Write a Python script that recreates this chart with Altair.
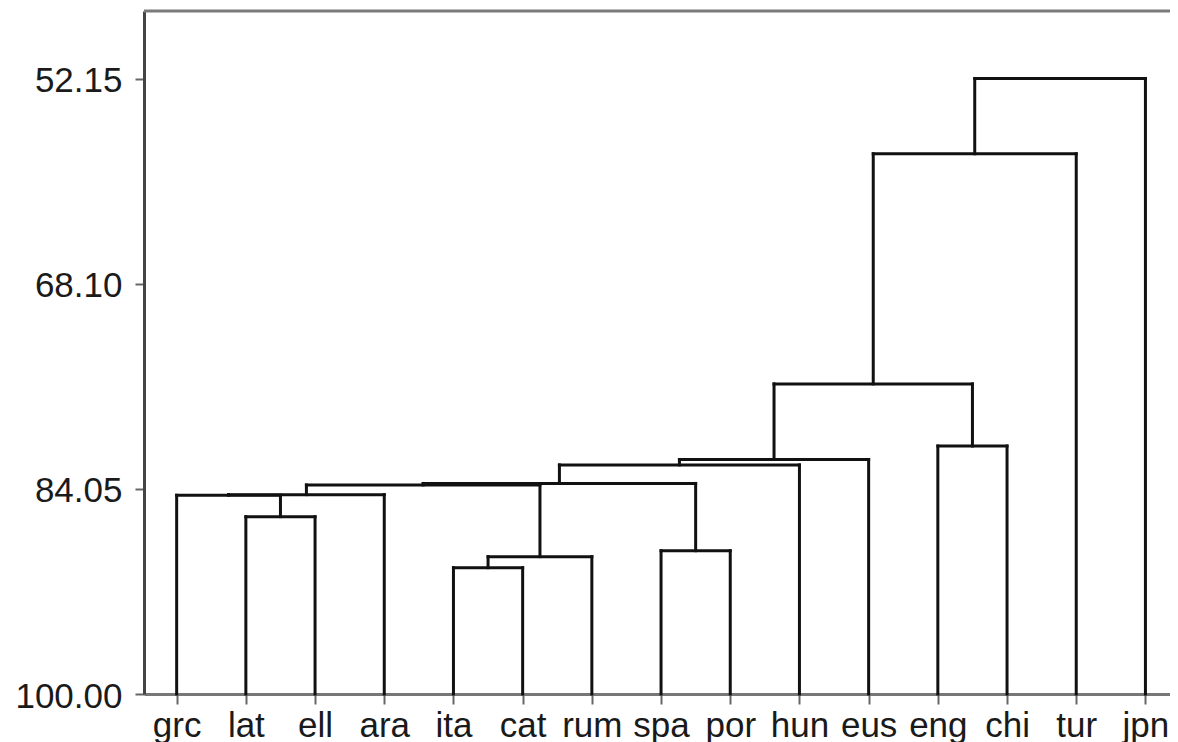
import altair as alt
import pandas as pd

# Leaves in dendrogram order
leaves = ["grc", "lat", "ell", "ara", "ita", "cat", "rum", "spa", "por",
          "hun", "eus", "eng", "chi", "tur", "jpn"]

# Linkage: node ids 0..14 are leaves, merge k creates node 15+k
merge_left = [1, 0, 16, 4, 18, 7, 17, 21, 22, 23, 11, 24, 26, 27]
merge_right = [2, 15, 3, 5, 6, 8, 19, 20, 9, 10, 12, 25, 13, 14]
merge_height = [86.21, 84.55, 84.50, 90.18, 89.32, 88.86, 83.75, 83.63,
                82.19, 81.77, 80.72, 75.89, 58.00, 52.15]

y_ticks = [52.15, 68.10, 84.05, 100.00]
leaf_level = 100.0
y_top = 46.90

# Build dendrogram segments from linkage
pos = {i: float(i) for i in range(len(leaves))}
hgt = {i: leaf_level for i in range(len(leaves))}
rows = []
for k, (l, r, h) in enumerate(zip(merge_left, merge_right, merge_height)):
    node = len(leaves) + k
    rows.append({"x": pos[l], "x2": pos[l], "y": hgt[l], "y2": h})
    rows.append({"x": pos[l], "x2": pos[r], "y": h, "y2": h})
    rows.append({"x": pos[r], "x2": pos[r], "y": hgt[r], "y2": h})
    pos[node] = (pos[l] + pos[r]) / 2
    hgt[node] = h
segs = pd.DataFrame(rows)

# leaf spacing ~69.2px; right end of view trimmed to fit the window
x_dom = [-0.472, 14.355]
label_expr = "[" + ",".join("'%s'" % s for s in leaves) + "][datum.value]"

xscale = alt.Scale(domain=x_dom, nice=False, zero=False)
yscale = alt.Scale(domain=[leaf_level, y_top], nice=False, zero=False)

FONT = "Liberation Sans"

lines = alt.Chart(segs).mark_rule(color="#111111", strokeWidth=3, strokeCap="square").encode(
    x=alt.X("x:Q", scale=xscale, axis=alt.Axis(
        values=list(range(len(leaves))), labelExpr=label_expr, title=None, grid=False,
        domainColor="#777777", domainWidth=3, tickColor="#666666", tickWidth=2, tickSize=10,
        labelFontSize=35, labelFont=FONT, labelColor="#1a1a1a", labelPadding=4,
        labelFlush=False, labelOverlap=False)),
    x2="x2:Q",
    y=alt.Y("y:Q", scale=yscale, axis=alt.Axis(
        values=y_ticks, format=".2f", title=None, grid=False,
        domainColor="#444444", domainWidth=3, tickColor="#666666", tickWidth=2, tickSize=9,
        labelFontSize=35, labelFont=FONT, labelColor="#1a1a1a", labelPadding=13,
        labelOffset=2, labelOverlap=False, labelFlush=False)),
    y2="y2:Q",
)

frame = alt.Chart(pd.DataFrame({"a": [0]})).mark_rule(color="#7a7a7a", strokeWidth=3).encode(
    x=alt.value(0), x2=alt.value("width"), y=alt.value(0)
)

chart = alt.layer(lines, frame).properties(
    width=1026, height=683,
    autosize=alt.AutoSizeParams(type="none"),
    padding={"left": 136, "top": 3, "right": 0, "bottom": 50},
).configure_view(stroke=None).configure(background="white")

chart.save("out.html", embed_options={"renderer": "svg", "actions": False})
